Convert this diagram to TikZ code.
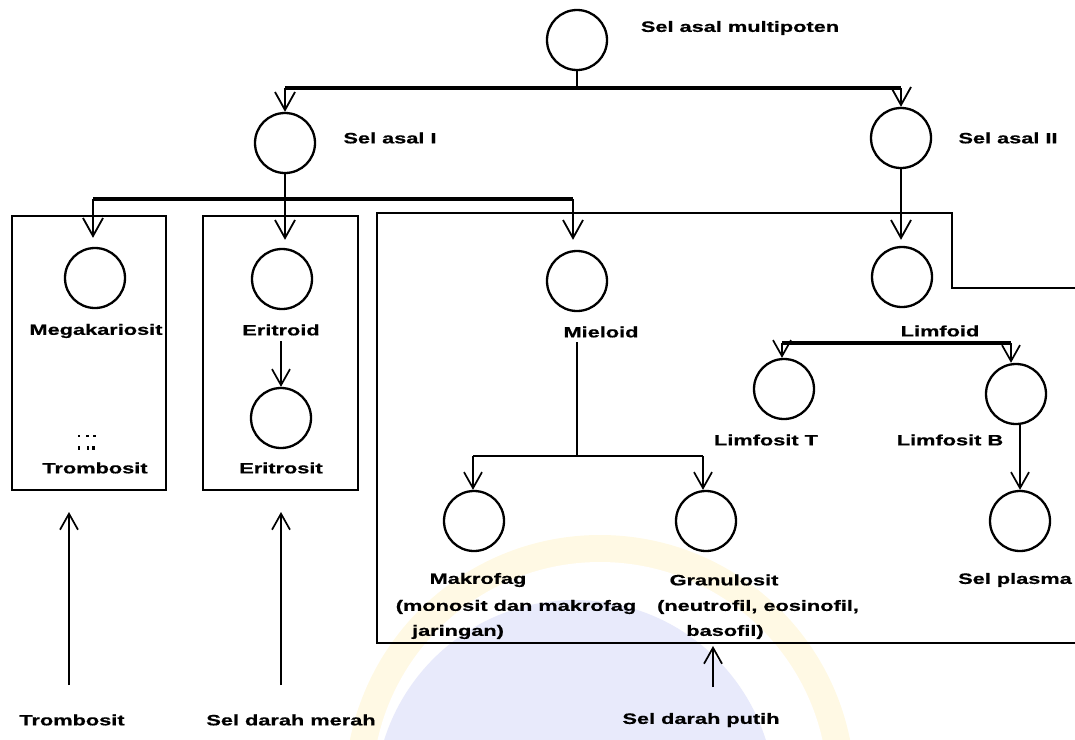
\documentclass[tikz,border=0pt]{standalone}
\usepackage{fontspec}
\setmainfont{Liberation Sans}
\newfontfamily\lblfont{Liberation Sans}[UprightFont={* Bold}, FakeBold=0.6]
\usetikzlibrary{arrows.meta,calc}
\definecolor{wmY}{RGB}{255,249,228}
\definecolor{wmB}{RGB}{232,234,251}
\newcommand{\stx}[1]{\scalebox{1.45}[1]{#1}}
\begin{document}
\begin{tikzpicture}[x=1pt,y=-1pt,
  cell/.style={circle,draw,line width=2.3pt,minimum size=60pt,inner sep=0pt},
  lab/.style={inner sep=0pt,font=\fontsize{15}{17}\lblfont},
  ln/.style={line width=2.3pt},
  bus/.style={line width=3.2pt},
  boxline/.style={line width=2.3pt},
  arr/.style={line width=2.3pt,-{Straight Barb[length=18pt,width=20pt,line width=1.8pt]}},
  sarr/.style={line width=1.9pt,-{Straight Barb[length=16pt,width=18pt,line width=1.7pt]}}]
\useasboundingbox (0,0) rectangle (1075,739);
% faint watermark
\fill[wmY] (600,790) circle (255);
\fill[white] (600,790) circle (228);
\fill[wmB] (575,800) circle (200);
% top level
\node[cell] (c0) at (577,40) {};
\node[lab] (l0) at (740,28) {\stx{Sel asal multipoten}};
\node[cell] (c1) at (285,143) {};
\node[lab] (l1) at (390,138) {\stx{Sel asal I}};
\node[cell] (c2) at (901,138) {};
\node[lab] (l2) at (1008,138) {\stx{Sel asal II}};
\coordinate (b1m) at (577,88);
\coordinate (b1l) at (285,88);
\coordinate (b1r) at (901,88);
\draw[ln] (c0.south) -- (b1m);
\draw[bus] (b1l) -- (b1r);
\draw[arr] (b1l) -- (c1.north);
\draw[arr] (b1r) -- (c2.north);
% second bus
\coordinate (b2l) at (93,199);
\coordinate (b2m) at (285,199);
\coordinate (b2r) at (573,199);
\draw[ln] (c1.south) -- (b2m);
\draw[bus] (b2l) -- (b2r);
% boxes
\draw[boxline] (12,216) rectangle (166,490);
\draw[boxline] (203,216) rectangle (358,490);
\draw[boxline] (1075,288) -- (952,288) -- (952,213) -- (377,213) -- (377,643) -- (1075,643);
% Megakariosit box
\node[cell] (mega) at (95,278) {};
\node[lab] (lmega) at (96,331) {\stx{Megakariosit}};
\fill (78,435) rectangle +(2,2);
\fill (86,435) rectangle +(3,2);
\fill (93,435) rectangle +(3,2);
\fill (78,446) rectangle +(2,4);
\fill (87,446) rectangle +(2,4);
\fill (92,446) rectangle +(3,4);
\node[lab] (ltromb) at (95,468) {\stx{Trombosit}};
\draw[arr,shorten >=9pt] (b2l) -- (b2l |- mega.north);
% Eritroid box
\node[cell] (erd) at (282,279) {};
\node[lab] (lerd) at (281,330) {\stx{Eritroid}};
\node[cell] (ers) at (281,418) {};
\node[lab] (lers) at (281,468) {\stx{Eritrosit}};
\draw[arr,shorten >=8pt] (b2m) -- (b2m |- erd.north);
\coordinate (erdlow) at (281,341);
\draw[sarr] (erdlow) -- (ers.north);
% Mieloid
\node[cell] (mie) at (577,281) {};
\node[lab] (lmie) at (601,332) {\stx{Mieloid}};
\draw[arr,shorten >=10pt] (b2r) -- (b2r |- mie.north);
\coordinate (mietop) at (577,342);
\coordinate (b3m) at (577,456);
\coordinate (b3l) at (473,456);
\coordinate (b3r) at (703,456);
\draw[ln] (mietop) -- (b3m);
\draw[ln] (b3l) -- (b3r);
\node[cell] (mak) at (474,521) {};
\node[cell] (gra) at (706,521) {};
\draw[sarr] (b3l) -- (b3l |- mak.north);
\draw[sarr] (b3r) -- (b3r |- gra.north);
\node[lab] (lmak1) at (478,580) {\stx{Makrofag}};
\node[lab] (lmak2) at (516,607) {\stx{(monosit dan makrofag}};
\node[lab] (lmak3) at (458,632) {\stx{jaringan)}};
\node[lab] (lgra1) at (724,580) {\stx{Granulosit}};
\node[lab] (lgra2) at (758,607) {\stx{(neutrofil, eosinofil,}};
\node[lab] (lgra3) at (725,632) {\stx{basofil)}};
% Limfoid
\node[cell] (lim) at (902,277) {};
\draw[arr,shorten >=6pt] (c2.south) -- (c2.south |- lim.north);
\node[lab] (llim) at (940,331) {\stx{Limfoid}};
\coordinate (b4l) at (782,343);
\coordinate (b4r) at (1011,343);
\draw[bus] (b4l) -- (b4r);
\node[cell] (limT) at (784,389) {};
\node[cell] (limB) at (1016,394) {};
\draw[sarr] (b4l) -- (b4l |- limT.north);
\draw[sarr] (b4r) -- (b4r |- limB.north);
\node[lab] (llimT) at (766,440) {\stx{Limfosit T}};
\node[lab] (llimB) at (950,440) {\stx{Limfosit B}};
\node[cell] (pla) at (1020,521) {};
\draw[sarr] (limB.south -| pla) -- (pla.north);
\node[lab] (lpla) at (1015,580) {\stx{Sel plasma}};
% bottom
\node[lab] (t1) at (72,720) {\stx{Trombosit}};
\node[lab] (t2) at (291,720) {\stx{Sel darah merah}};
\node[lab] (t3) at (701,720) {\stx{Sel darah putih}};
\coordinate (a1s) at (69,685);
\coordinate (a1e) at (69,512);
\coordinate (a2s) at (281,685);
\coordinate (a2e) at (281,512);
\coordinate (a3s) at (713,687);
\coordinate (a3e) at (713,646);
\draw[sarr] (a1s) -- (a1e);
\draw[sarr] (a2s) -- (a2e);
\draw[sarr] (a3s) -- (a3e);
\end{tikzpicture}
\end{document}
